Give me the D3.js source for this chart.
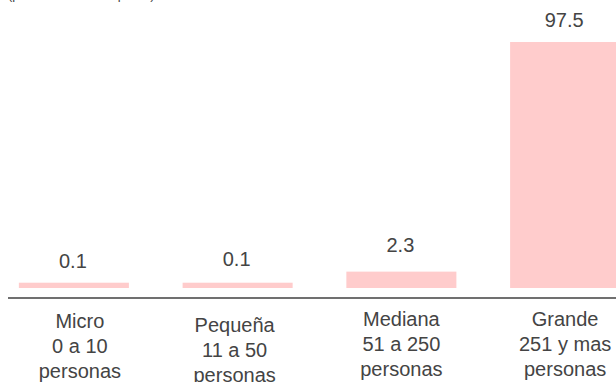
<!DOCTYPE html>
<html>
<head>
<meta charset="utf-8">
<script src="https://cdn.jsdelivr.net/npm/d3@7"></script>
<style>
  html, body { margin: 0; padding: 0; background: #fff; }
  svg { display: block; }
  text { font-family: "Liberation Sans", Arial, Helvetica, sans-serif; }
</style>
</head>
<body>
<svg id="chart" width="616" height="382"></svg>
<script>
// ---- data ----
const categories = ["Micro", "Pequeña", "Mediana", "Grande"];
const ranges = ["0 a 10", "11 a 50", "51 a 250", "251 y mas"];
const unitLabel = "personas";
const values = [0.1, 0.1, 2.3, 97.5];
const valueLabels = ["0.1", "0.1", "2.3", "97.5"];
const subtitle = "(por tamaño de empresa)";

// ---- layout ----
const W = 616, H = 382;
const baseY = 288;          // bottom of bars
const topY = 42;            // top of the tallest bar
const axisY = 298;
const minBar = 5.3;         // minimum visible bar height
const labelNudgeX = [6, -3, 0, 0];
const labelNudgeY = [1, 5, -1, -1];
const valueNudgeY = [1, -1, -4, 1];

const svg = d3.select("#chart");

const x = d3.scaleBand()
  .domain(categories)
  .range([-8, 647])
  .paddingInner(0.328)
  .paddingOuter(0.164);

const h = d3.scaleSymlog()
  .constant(17)
  .domain([0, d3.max(values)])
  .range([0, baseY - topY]);

const barH = v => Math.max(h(v), minBar);

// subtitle (mostly clipped at the top edge)
svg.append("text")
  .attr("x", 8).attr("y", -1.3)
  .attr("font-size", 13)
  .attr("fill", "#444")
  .text(subtitle);

// bars
svg.selectAll("rect.bar")
  .data(values)
  .join("rect")
  .attr("class", "bar")
  .attr("x", (d, i) => x(categories[i]))
  .attr("width", x.bandwidth())
  .attr("y", d => baseY - barH(d))
  .attr("height", d => barH(d))
  .attr("fill", "#ffcccc");

// value labels
svg.selectAll("text.val")
  .data(values)
  .join("text")
  .attr("class", "val")
  .attr("x", (d, i) => x(categories[i]) + x.bandwidth() / 2 - 1)
  .attr("y", (d, i) => baseY - barH(d) - 16 + valueNudgeY[i])
  .attr("text-anchor", "middle")
  .attr("font-size", 20)
  .attr("fill", "#444")
  .text((d, i) => valueLabels[i]);

// axis line
svg.append("line")
  .attr("x1", 8).attr("x2", W)
  .attr("y1", axisY).attr("y2", axisY)
  .attr("stroke", "#707070")
  .attr("stroke-width", 2);

// category labels
const g = svg.selectAll("text.cat")
  .data(categories)
  .join("text")
  .attr("class", "cat")
  .attr("text-anchor", "middle")
  .attr("font-size", 20)
  .attr("fill", "#444")
  .attr("transform", (d, i) =>
    `translate(${x(d) + x.bandwidth() / 2 + labelNudgeX[i]},${327 + labelNudgeY[i]})`);

g.each(function(d, i) {
  const t = d3.select(this);
  [d, ranges[i], unitLabel].forEach((line, j) => {
    t.append("tspan").attr("x", 0).attr("y", j * 25).text(line);
  });
});
</script>
</body>
</html>
